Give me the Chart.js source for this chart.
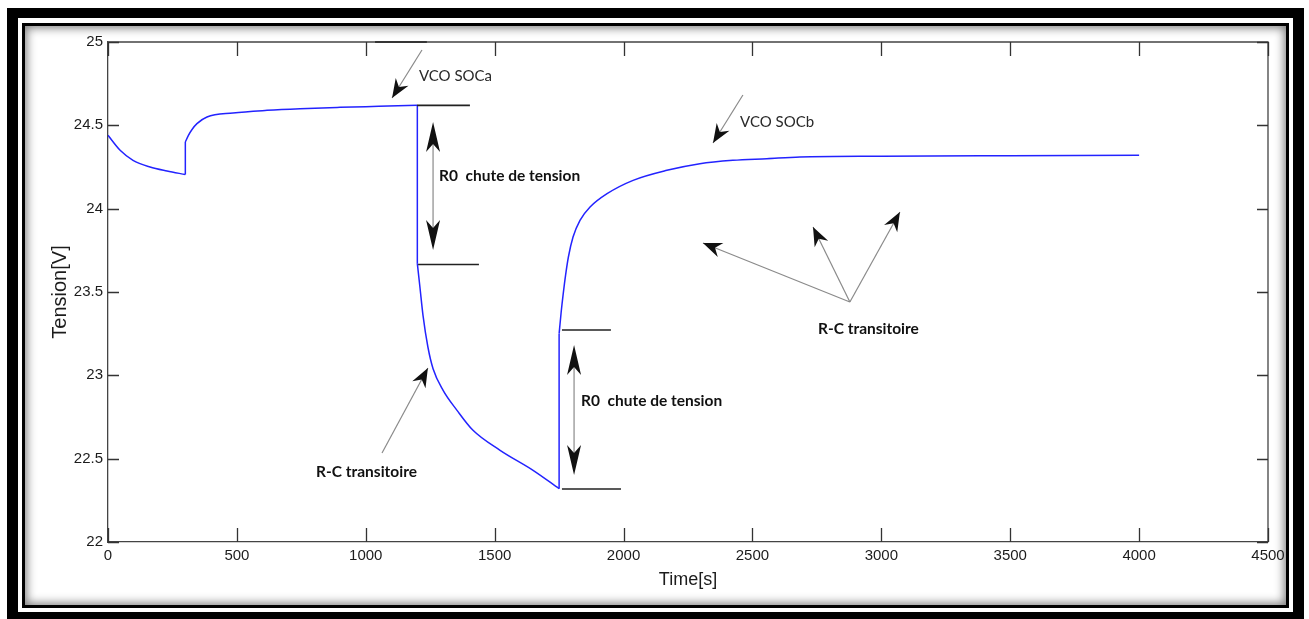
<!DOCTYPE html>
<html>
<head>
<meta charset="utf-8">
<script src="https://cdn.jsdelivr.net/npm/chart.js@4"></script>
<style>
  html, body { margin: 0; padding: 0; background: #fff; }
  #wrap { position: relative; width: 1309px; height: 619px; overflow: hidden; }
  .outer { position: absolute; left: 7px; top: 8px; width: 1297px; height: 611px; box-sizing: border-box;
           border: solid #000; border-width: 10px 11px 7px 11px; }
  .inner { position: absolute; left: 22px; top: 23px; width: 1267px; height: 585px; box-sizing: border-box;
           border: 3px solid #000; box-shadow: inset 0 0 10px 2px rgba(0,0,0,0.5); }
  canvas { position: absolute; left: 0; top: 0; }
</style>
</head>
<body>
<div id="wrap">
  <div class="outer"></div>
  <div class="inner"></div>
  <canvas id="voltChart" width="1309" height="619"></canvas>
</div>
<script>
// values (a repeated time = vertical jump)
const timeS = [0, 47, 97, 163, 229, 300,
  300, 312, 326, 345, 384, 485, 617, 745, 900, 1050, 1200,
  1200, 1210, 1222, 1241, 1261, 1300, 1354, 1416, 1521, 1649, 1750,
  1750, 1758, 1766, 1775, 1786, 1804, 1831, 1870, 1936, 2037, 2168, 2296, 2424, 2556, 2684, 3000, 3500, 4000];
const tensionV = [24.44, 24.35, 24.29, 24.25, 24.226, 24.205,
  24.40, 24.44, 24.475, 24.51, 24.55, 24.574, 24.59, 24.60, 24.608, 24.614, 24.62,
  23.67, 23.53, 23.36, 23.17, 23.04, 22.91, 22.79, 22.67, 22.55, 22.43, 22.32,
  23.25, 23.38, 23.49, 23.60, 23.71, 23.83, 23.93, 24.01, 24.09, 24.17, 24.23, 24.27, 24.29, 24.30, 24.31, 24.315, 24.318, 24.32];

const xTicks = [0, 500, 1000, 1500, 2000, 2500, 3000, 3500, 4000, 4500];
const yTicks = [22, 22.5, 23, 23.5, 24, 24.5, 25];

// annotations, in data units (t, V)
const levelLines = [
  [1036, 1237, 25.0],
  [1199, 1404, 24.62],
  [1203, 1439, 23.665],
  [1761, 1951, 23.272],
  [1761, 1990, 22.318]
];
const doubleArrows = [
  [1261, 24.52, 23.752],
  [1808, 23.182, 22.402]
];
const pointers = [
  [1218, 24.952, 1102, 24.664],
  [2463, 24.682, 2347, 24.394],
  [1063, 22.534, 1241, 23.044],
  [2878, 23.44, 2308, 23.794],
  [2878, 23.44, 2735, 23.89],
  [2878, 23.44, 3072, 23.98]
];
const notes = [
  ['R0  chute de tension', 1284, 24.196, true],
  ['R0  chute de tension', 1835, 22.846, true],
  ['VCO SOCa', 1206, 24.796, false],
  ['VCO SOCb', 2452, 24.52, false],
  ['R-C transitoire', 807, 22.42, true],
  ['R-C transitoire', 2754, 23.278, true]
];

// split the series into smooth pieces and the vertical jumps between them
const pieces = [];
const jumps = [];
let cur = [];
timeS.forEach((t, i) => {
  if (i > 0 && t === timeS[i - 1]) {
    pieces.push(cur);
    jumps.push([{ x: t, y: tensionV[i - 1] }, { x: t, y: tensionV[i] }]);
    cur = [];
  }
  cur.push({ x: t, y: tensionV[i] });
});
pieces.push(cur);

const lineStyle = { showLine: true, borderColor: 'rgb(35,35,255)', borderWidth: 1.5, pointRadius: 0 };
const datasets = pieces.map(p => Object.assign({ data: p, cubicInterpolationMode: 'monotone' }, lineStyle))
  .concat(jumps.map(j => Object.assign({ data: j, tension: 0 }, lineStyle)));

function arrowHead(c, x1, y1, x2, y2, len, half, notch) {
  const a = Math.atan2(y2 - y1, x2 - x1);
  const co = Math.cos(a), si = Math.sin(a);
  c.beginPath();
  c.moveTo(x2, y2);
  c.lineTo(x2 - len * co + half * si, y2 - len * si - half * co);
  c.lineTo(x2 - (len - notch) * co, y2 - (len - notch) * si);
  c.lineTo(x2 - len * co - half * si, y2 - len * si + half * co);
  c.closePath();
  c.fill();
}

const decorPlugin = {
  id: 'decor',
  afterDraw(chart) {
    const c = chart.ctx;
    const xs = chart.scales.x, ys = chart.scales.y;
    const a = chart.chartArea;
    c.save();
    // top + right box edges
    c.strokeStyle = '#444';
    c.lineWidth = 1.3;
    c.beginPath();
    c.moveTo(a.left, a.top); c.lineTo(a.right, a.top); c.lineTo(a.right, a.bottom);
    c.stroke();
    // inward ticks
    c.strokeStyle = '#333';
    c.beginPath();
    xs.ticks.forEach(t => {
      const px = Math.round(xs.getPixelForValue(t.value)) + 0.5;
      c.moveTo(px, a.bottom); c.lineTo(px, a.bottom - 14);
      c.moveTo(px, a.top); c.lineTo(px, a.top + 14);
    });
    ys.ticks.forEach(t => {
      const py = Math.round(ys.getPixelForValue(t.value)) + 0.5;
      c.moveTo(a.left, py); c.lineTo(a.left + 11, py);
      c.moveTo(a.right, py); c.lineTo(a.right - 11, py);
    });
    c.stroke();

    // level lines
    c.strokeStyle = '#222';
    c.lineWidth = 1.6;
    levelLines.forEach(([t1, t2, v]) => {
      const py = ys.getPixelForValue(v);
      c.beginPath();
      c.moveTo(xs.getPixelForValue(t1), py);
      c.lineTo(xs.getPixelForValue(t2), py);
      c.stroke();
    });

    // double arrows
    c.fillStyle = '#111';
    doubleArrows.forEach(([t, v1, v2]) => {
      const px = xs.getPixelForValue(t);
      const p1 = ys.getPixelForValue(v1), p2 = ys.getPixelForValue(v2);
      c.strokeStyle = '#8a8a8a';
      c.lineWidth = 1.2;
      c.beginPath(); c.moveTo(px, p1 + 10); c.lineTo(px, p2 - 10); c.stroke();
      arrowHead(c, px, p2, px, p1, 30, 7, 8);
      arrowHead(c, px, p1, px, p2, 30, 7, 8);
    });

    // single pointers
    pointers.forEach(([t1, v1, t2, v2]) => {
      const x1 = xs.getPixelForValue(t1), y1 = ys.getPixelForValue(v1);
      const x2 = xs.getPixelForValue(t2), y2 = ys.getPixelForValue(v2);
      c.strokeStyle = '#8a8a8a';
      c.lineWidth = 1.2;
      c.beginPath(); c.moveTo(x1, y1); c.lineTo(x2, y2); c.stroke();
      arrowHead(c, x1, y1, x2, y2, 19, 7.5, 6);
    });

    // labels
    c.textBaseline = 'middle';
    c.textAlign = 'left';
    notes.forEach(([txt, t, v, bold]) => {
      c.font = bold ? 'bold 15.5px Lato, "Open Sans", sans-serif' : '15px Lato, "Open Sans", sans-serif';
      c.fillStyle = bold ? '#111' : '#2a2a2a';
      c.fillText(txt, xs.getPixelForValue(t), ys.getPixelForValue(v));
    });
    c.restore();
  }
};

const tickFont = { family: "'Liberation Sans Narrow', 'Liberation Sans', Arial, sans-serif", size: 15 };

const canvas = document.getElementById('voltChart');
canvas.chart = new Chart(canvas, {
  type: 'scatter',
  data: { datasets: datasets },
  options: {
    responsive: false,
    animation: false,
    events: [],
    layout: { padding: { left: 0, top: 42, right: 41, bottom: 0 } },
    plugins: { legend: { display: false }, tooltip: { enabled: false } },
    scales: {
      x: {
        type: 'linear', min: 0, max: 4500,
        afterBuildTicks: s => { s.ticks = xTicks.map(v => ({ value: v })); },
        afterFit: s => { s.height = 77; },
        grid: { display: false, drawTicks: false },
        border: { display: true, color: '#444', width: 1.3 },
        ticks: { padding: 5, color: '#1c1c1c', font: tickFont, maxRotation: 0, callback: v => String(v) },
        title: { display: true, text: 'Time[s]', color: '#1c1c1c',
                 font: { family: "'Liberation Sans', Arial, sans-serif", size: 18 }, padding: { top: 0, bottom: 28 } }
      },
      y: {
        type: 'linear', min: 22, max: 25,
        afterBuildTicks: s => { s.ticks = yTicks.map(v => ({ value: v })); },
        afterFit: s => { s.width = 108; },
        grid: { display: false, drawTicks: false },
        border: { display: true, color: '#444', width: 1.3 },
        ticks: { padding: 5, color: '#1c1c1c', font: tickFont, callback: v => String(v) },
        title: { display: true, text: 'Tension[V]', color: '#1c1c1c',
                 font: { family: "'Liberation Sans', Arial, sans-serif", size: 20 }, padding: { top: 48, bottom: 0 } }
      }
    }
  },
  plugins: [decorPlugin]
});
</script>
</body>
</html>
